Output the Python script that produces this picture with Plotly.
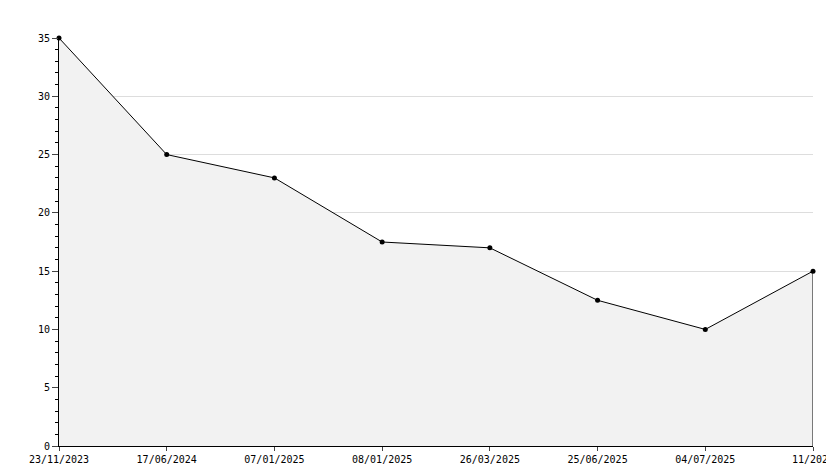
import plotly.graph_objects as go

labels = ["23/11/2023","17/06/2024","07/01/2025","08/01/2025","26/03/2025","25/06/2025","04/07/2025","11/2025"]
values = [35, 25, 23, 17.5, 17, 12.5, 10, 15]
yticks = [0, 5, 10, 15, 20, 25, 30, 35]

fig = go.Figure()
fig.add_trace(go.Scatter(x=list(range(len(labels))), y=values, mode="lines+markers",
    fill="tozeroy", fillcolor="#f2f2f2",
    line=dict(color="black", width=1),
    marker=dict(symbol="circle", size=5, color="black"), cliponaxis=False))
fig.update_layout(width=834, height=468, margin=dict(l=51, r=29, t=30, b=30, autoexpand=False),
    plot_bgcolor="white", paper_bgcolor="white", showlegend=False,
    font=dict(family="DejaVu Sans Mono", size=10, color="black"))
fig.update_xaxes(range=[0, len(labels)-1], tickvals=list(range(len(labels))), ticktext=labels,
    showgrid=False, showline=True, linecolor="black", ticks="outside", ticklen=4,
    mirror=False, zeroline=False, automargin=False)
fig.update_yaxes(range=[0, 35], tickvals=yticks, showgrid=True, gridcolor="#dddddd",
    showline=True, linecolor="black", ticks="outside", ticklen=6, zeroline=False, automargin=False,
    minor=dict(dtick=1, ticks="outside", ticklen=3, tickcolor="black", showgrid=False))
fig.add_shape(type="line", xref="x", yref="y", x0=len(labels)-1, x1=len(labels)-1, y0=0, y1=values[-1],
    line=dict(color="black", width=1))
fig.write_html("out.html")
